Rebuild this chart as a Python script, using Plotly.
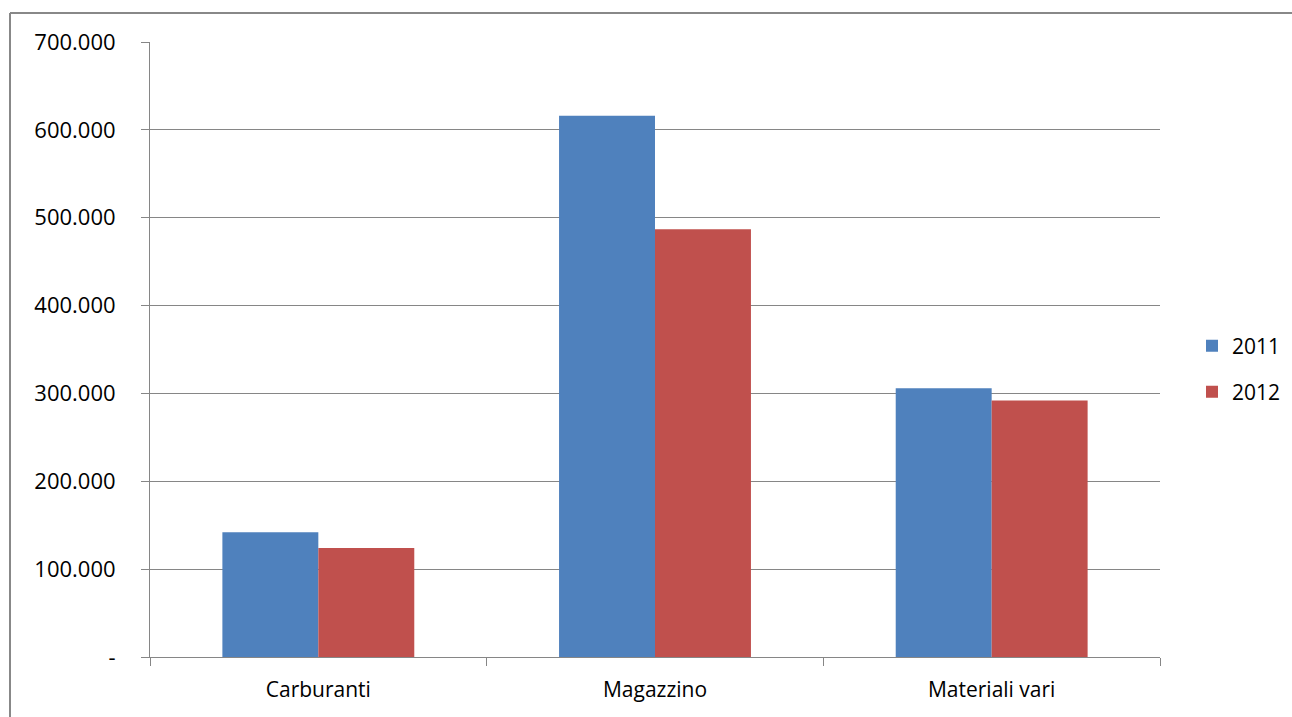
import plotly.graph_objects as go

categories = ["Carburanti", "Magazzino", "Materiali vari"]
values_2011 = [142000, 616000, 306000]
values_2012 = [124000, 487000, 292000]
tick_values = [0, 100000, 200000, 300000, 400000, 500000, 600000, 700000]
tick_labels = ["-", "100.000", "200.000", "300.000", "400.000", "500.000", "600.000", "700.000"]

W, H = 1292, 717
L, R, T, B = 150, 1160, 42, 657
pw, ph = R - L, B - T

def px(x):
    return (x - L) / pw

def py(y):
    return (B - y) / ph

FONT = "'Open Sans', Lato, Arial, sans-serif"
GRID = "#868686"
FS = 22

fig = go.Figure()
fig.add_trace(go.Bar(name="2011", x=categories, y=values_2011,
                     marker=dict(color="#4F81BD", line=dict(width=0)), legend="legend"))
fig.add_trace(go.Bar(name="2012", x=categories, y=values_2012,
                     marker=dict(color="#C0504D", line=dict(width=0)), legend="legend2"))

leg_common = dict(xanchor="left", yanchor="middle", font=dict(size=FS - 1),
                  itemwidth=30, bgcolor="rgba(0,0,0,0)")

fig.update_layout(
    width=W, height=H,
    margin=dict(l=L, r=W - R, t=T, b=H - B, pad=0, autoexpand=False),
    paper_bgcolor="white", plot_bgcolor="white",
    barmode="group", bargap=0.43, bargroupgap=0,
    font=dict(family=FONT, size=FS, color="#000000"),
    showlegend=True,
    legend=dict(x=px(1192), y=py(346), **leg_common),
    legend2=dict(x=px(1192), y=py(392), **leg_common),
    xaxis=dict(
        showgrid=False, showline=True, linecolor=GRID, linewidth=1,
        ticks="outside", ticklen=8, tickcolor=GRID, tickson="boundaries",
        tickfont=dict(size=FS - 1), fixedrange=True, ticklabelstandoff=14,
    ),
    yaxis=dict(
        range=[0, 700000], tickvals=tick_values, ticktext=tick_labels,
        showgrid=True, gridcolor=GRID, gridwidth=1,
        showline=True, linecolor=GRID, linewidth=1,
        ticks="outside", ticklen=8, tickcolor=GRID,
        tickfont=dict(size=FS), zeroline=False, ticklabelstandoff=21,
    ),
    shapes=[
        dict(type="line", xref="paper", yref="paper",
             x0=px(10), x1=px(1300), y0=py(13), y1=py(13),
             line=dict(color="#888888", width=2)),
        dict(type="line", xref="paper", yref="paper",
             x0=px(10), x1=px(10), y0=py(13), y1=py(730),
             line=dict(color="#888888", width=2)),
    ],
)

fig.write_html("out.html")
